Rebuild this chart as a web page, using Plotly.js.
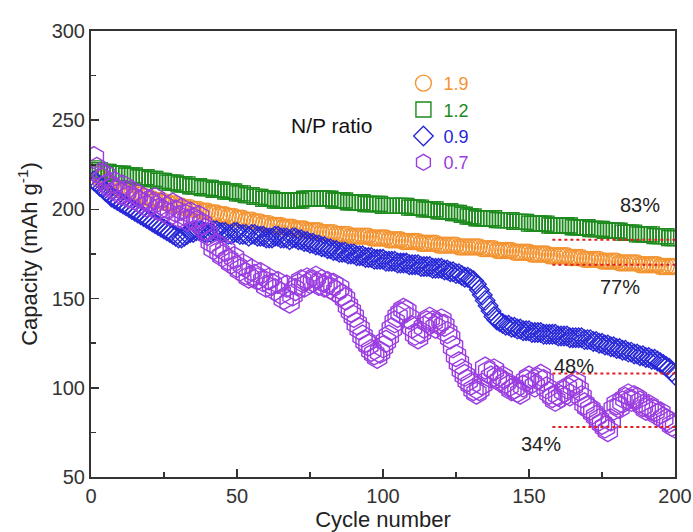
<!DOCTYPE html>
<html>
<head>
<meta charset="utf-8">
<script src="https://cdn.plot.ly/plotly-3.0.1.min.js"></script>
<style>html,body{margin:0;padding:0;background:#fff;}#chart{width:693px;height:532px;}</style>
</head>
<body>
<div id="chart"></div>
<script>
// ---- data ----
var seriesNames = ["1.9", "1.2", "0.9", "0.7"];

var cap19 = [
222,220,218,217,216,215,214,213,212,211,
211,210,210,209,209,208,208,207,207,206,
206,205,205,205,204,204,203,203,203,202,
202,201,201,201,200,200,200,199,199,199,
198,198,198,197,197,197,196,196,196,195,
195,195,194,194,194,193,193,193,192,192,
192,191,191,191,191,190,190,190,190,189,
189,189,189,188,188,188,188,188,187,187,
187,187,187,186,186,186,186,186,185,185,
185,185,185,185,185,184,184,184,184,184,
184,183,183,183,183,183,182,182,182,182,
182,182,181,181,181,181,181,181,180,180,
180,180,180,180,180,179,179,179,179,179,
179,179,179,178,178,178,178,178,177,177,
177,177,177,177,176,176,176,176,176,176,
175,175,175,175,175,175,174,174,174,174,
174,174,174,173,173,173,173,173,172,172,
172,172,172,172,171,171,171,171,171,171,
170,170,170,170,170,170,170,169,169,169,
169,169,169,169,168,168,168,168,168,168];

var cap12 = [
223,222,222,221,221,221,220,220,220,220,
220,219,219,219,219,218,218,218,218,217,
217,217,216,216,216,215,215,215,215,214,
214,214,214,213,213,213,213,212,212,212,
212,211,211,211,211,210,210,210,210,209,
209,209,208,208,208,207,207,207,206,206,
206,206,205,205,205,205,205,205,205,205,
205,205,206,206,206,206,206,206,206,206,
206,206,205,205,205,205,205,204,204,204,
204,204,204,203,203,203,203,203,203,202,
202,202,202,202,202,202,202,202,201,201,
201,201,201,200,200,200,200,200,199,199,
199,199,199,198,198,198,197,197,196,196,
196,195,195,195,195,195,195,195,194,194,
194,194,194,194,193,193,193,193,193,192,
192,192,192,192,192,192,191,191,191,191,
191,191,191,191,190,190,190,190,190,190,
189,189,189,189,189,188,188,188,188,188,
188,187,187,187,187,187,186,186,186,186,
186,186,185,185,185,185,185,184,184,184];

var cap09 = [
216,215,213,212,210,209,207,206,205,204,
203,202,201,200,199,198,197,196,195,194,
193,192,191,190,189,188,187,186,185,184,
184,185,186,187,187,188,188,188,187,187,
187,188,188,187,187,187,186,186,187,187,
186,186,186,185,186,186,185,185,185,184,
184,184,185,185,184,184,184,183,184,184,
183,183,182,182,181,181,180,180,179,179,
178,178,177,177,176,176,176,175,175,175,
174,174,174,173,173,173,172,172,172,172,
171,171,171,171,170,170,170,170,169,169,
169,169,168,168,168,168,167,167,167,167,
166,166,165,165,164,164,163,162,162,161,
160,158,155,152,149,146,143,140,138,137,
136,135,135,134,134,133,133,132,132,132,
131,131,131,131,130,130,130,130,130,129,
129,129,129,128,128,128,128,128,127,127,
127,126,126,125,125,124,124,123,123,122,
122,121,121,120,120,119,119,118,118,117,
117,116,116,115,114,113,112,111,109,107];

var cap07 = [
229,223,220,217,219,214,212,215,211,209,
213,210,207,210,206,208,204,206,202,205,
203,206,200,203,199,201,197,203,199,196,
200,197,194,198,195,193,196,192,189,186,
182,178,180,176,174,177,172,170,173,168,
166,169,164,162,166,163,161,164,160,157,
161,158,155,159,153,150,157,148,152,155,
158,160,157,161,159,160,162,158,160,157,
159,156,158,154,156,152,150,146,143,140,
136,133,129,126,124,121,119,117,120,123,
126,129,133,137,140,142,144,143,139,134,
130,128,131,134,137,139,137,134,136,138,
135,131,128,123,118,114,110,107,104,102,
99,97,99,102,111,109,106,110,106,104,
106,103,101,99,100,98,97,101,104,106,
103,101,105,107,104,100,97,95,93,96,
95,98,100,96,101,103,99,95,91,89,
88,86,84,82,80,78,76,82,88,91,
89,92,94,96,93,95,94,92,90,88,
90,88,87,85,86,83,82,81,79,78];

// retention reference levels (red dotted lines) and their labels
var refLevels = [183, 169, 108, 78];
var refFrom = 158, refTo = 200;
var refLabels = ["83%", "77%", "48%", "34%"];
var refLabelX = [188, 181, 165.5, 154];
var refLabelY = [202.5, 156.5, 112, 68.5];

var cycles = cap19.map(function (_, i) { return i + 1; });

// ---- styling ----
var colors = ["#F39431", "#1C8A1C", "#2828D8", "#9A3CE0"];
var symbols = ["circle-open", "square-open", "diamond-open", "hexagon-open"];
var sizes = [16, 15, 15, 22];
var allSeries = [cap19, cap12, cap09, cap07];
var FONT = "Arial, 'Liberation Sans', sans-serif";

var traces = allSeries.map(function (vals, k) {
  return {
    x: cycles, y: vals, type: "scatter", mode: "markers",
    name: '<span style="color:' + colors[k] + '">' + seriesNames[k] + '</span>',
    legendgroup: "g" + k,
    marker: { symbol: symbols[k], size: sizes[k], color: colors[k], line: { width: 1.4, color: colors[k] } },
    hoverinfo: "skip"
  };
});

refLevels.forEach(function (lv) {
  traces.push({
    x: [refFrom, refTo], y: [lv, lv], type: "scatter", mode: "lines",
    line: { color: "#E02020", width: 2, dash: "dot" },
    showlegend: false, hoverinfo: "skip"
  });
});

var annotations = refLabels.map(function (t, i) {
  return { x: refLabelX[i], y: refLabelY[i], xref: "x", yref: "y", text: t, showarrow: false,
           font: { family: FONT, size: 20, color: "#222" } };
});
annotations.push({ x: 0.411, y: 0.789, xref: "paper", yref: "paper", text: "N/P ratio", showarrow: false,
                   xanchor: "center", yanchor: "middle", font: { family: FONT, size: 21, color: "#111" } });

var axisCommon = {
  showgrid: false, zeroline: false, showline: true, linecolor: "#333", linewidth: 2, mirror: true,
  ticks: "inside", ticklen: 8, tickwidth: 1.5, tickcolor: "#333",
  tickfont: { family: FONT, size: 20, color: "#333" }
};

var layout = {
  width: 693, height: 532,
  margin: { l: 91, r: 18, t: 31, b: 55 },
  paper_bgcolor: "#fff", plot_bgcolor: "#fff",
  showlegend: true,
  legend: { x: 0.535, y: 0.924, xanchor: "left", yanchor: "top", bgcolor: "rgba(0,0,0,0)",
            font: { family: FONT, size: 18 }, tracegroupgap: 0, itemsizing: "trace" },
  xaxis: Object.assign({}, axisCommon, {
    range: [0, 200], tick0: 0, dtick: 50,
    minor: { dtick: 25, ticks: "inside", ticklen: 5, tickwidth: 1.5, tickcolor: "#333" },
    title: { text: "Cycle number", font: { family: FONT, size: 22, color: "#222" }, standoff: 2 }
  }),
  yaxis: Object.assign({}, axisCommon, {
    range: [50, 300], tick0: 50, dtick: 50,
    minor: { dtick: 25, ticks: "inside", ticklen: 5, tickwidth: 1.5, tickcolor: "#333" },
    title: { text: "Capacity (mAh g<sup>-1</sup>)", font: { family: FONT, size: 22, color: "#222" }, standoff: 8 }
  }),
  annotations: annotations
};

Plotly.newPlot("chart", traces, layout, { staticPlot: true, displayModeBar: false });
</script>
</body>
</html>
